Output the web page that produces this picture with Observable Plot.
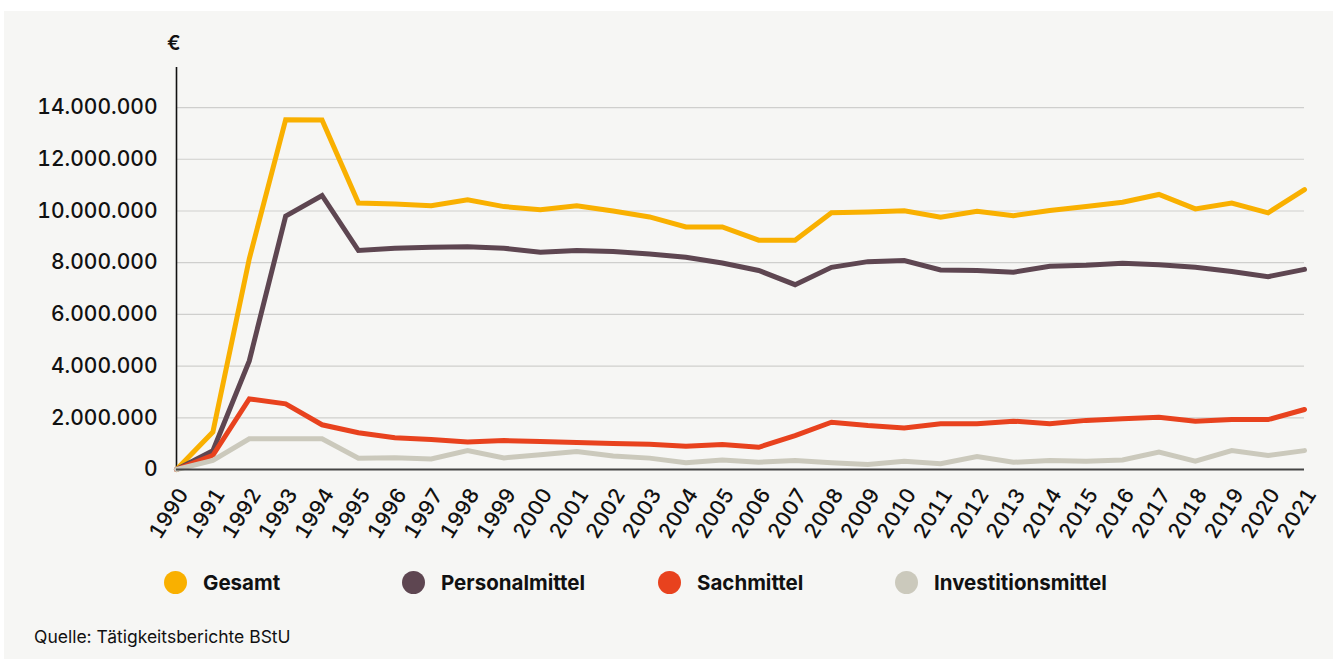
<!DOCTYPE html>
<html>
<head>
<meta charset="utf-8">
<script src="https://cdn.jsdelivr.net/npm/d3@7"></script>
<script src="https://cdn.jsdelivr.net/npm/@observablehq/plot@0.6"></script>
<style>
  html, body { margin: 0; padding: 0; background: #ffffff; }
  body { width: 1333px; height: 659px; position: relative; overflow: hidden; font-family: Inter, "Noto Sans", sans-serif; }
  #panel { position: absolute; left: 4px; top: 11px; width: 1329px; height: 648px; background: #f6f6f4; }
  #chart { position: absolute; left: 0; top: 0; }
  #euro { position: absolute; left: 163px; top: 20px; font-size: 20px; font-weight: 600; color: #111; }
  .leg { position: absolute; top: 559px; display: flex; align-items: center; font-size: 20.5px; font-weight: 700; color: #111; }
  .leg .dot { width: 23px; height: 23px; border-radius: 50%; margin-right: 16px; }
  #caption { position: absolute; left: 30px; top: 615px; font-size: 17.5px; color: #111; }
  svg g[aria-label="y-axis tick label"] text, svg g[aria-label="x-axis tick label"] text { font-weight: 500; }
</style>
</head>
<body>
<div id="panel">
  <div id="chart"></div>
  <div id="euro">€</div>
  <div id="legend"></div>
  <div id="caption">Quelle: Tätigkeitsberichte BStU</div>
</div>
<script>
const years = [1990, 1991, 1992, 1993, 1994, 1995, 1996, 1997, 1998, 1999, 2000, 2001, 2002, 2003, 2004, 2005,
               2006, 2007, 2008, 2009, 2010, 2011, 2012, 2013, 2014, 2015, 2016, 2017, 2018, 2019, 2020, 2021];

const gesamt = [0, 1450000, 8150000, 13530000, 13520000, 10310000, 10270000, 10200000, 10430000, 10170000,
                10050000, 10200000, 10000000, 9770000, 9380000, 9380000, 8870000, 8870000, 9930000, 9960000,
                10010000, 9760000, 9990000, 9820000, 10020000, 10170000, 10340000, 10640000, 10080000, 10310000,
                9930000, 10830000];

const personalmittel = [0, 730000, 4200000, 9800000, 10600000, 8470000, 8560000, 8600000, 8620000, 8560000,
                8400000, 8470000, 8430000, 8340000, 8210000, 7990000, 7700000, 7150000, 7820000, 8040000,
                8080000, 7720000, 7700000, 7630000, 7860000, 7900000, 7980000, 7920000, 7820000, 7660000,
                7460000, 7740000];

const sachmittel = [0, 550000, 2730000, 2540000, 1730000, 1420000, 1230000, 1160000, 1060000, 1120000,
                1080000, 1040000, 1010000, 980000, 900000, 970000, 860000, 1310000, 1830000, 1700000,
                1610000, 1770000, 1770000, 1870000, 1770000, 1900000, 1960000, 2020000, 1870000, 1930000,
                1930000, 2320000];

const investitionsmittel = [0, 350000, 1190000, 1190000, 1190000, 440000, 450000, 410000, 730000, 450000,
                570000, 700000, 520000, 440000, 260000, 370000, 280000, 350000, 260000, 190000,
                320000, 220000, 500000, 280000, 350000, 320000, 370000, 670000, 320000, 730000,
                540000, 730000];

const seriesNames = ["Gesamt", "Personalmittel", "Sachmittel", "Investitionsmittel"];
const seriesColors = ["#f9b000", "#5e4651", "#e8421e", "#cbc9bc"];
const yTicks = [0, 2000000, 4000000, 6000000, 8000000, 10000000, 12000000, 14000000];

const seriesValues = [gesamt, personalmittel, sachmittel, investitionsmittel];
const rows = [];
seriesNames.forEach((name, i) => {
  years.forEach((yr, j) => rows.push({series: name, year: yr, value: seriesValues[i][j]}));
});

const de = d3.formatLocale({decimal: ",", thousands: ".", grouping: [3], currency: ["", " €"]});
const fmt = de.format(",");

const chart = Plot.plot({
  width: 1329,
  height: 550,
  marginLeft: 172,
  marginRight: 29,
  marginTop: 56,
  marginBottom: 92,
  style: {background: "transparent", fontFamily: "Inter, 'Noto Sans', sans-serif", fontSize: "21px", color: "#111"},
  x: {domain: [1990, 2021], label: null},
  y: {domain: [0, 15550000], label: null},
  color: {domain: seriesNames, range: seriesColors},
  marks: [
    Plot.gridY(yTicks, {stroke: "#cfcfcd", strokeOpacity: 1, strokeWidth: 1.2}),
    Plot.axisY(yTicks, {tickSize: 0, tickPadding: 19, tickFormat: fmt, label: null, fontSize: 21, fill: "#111"}),
    Plot.axisX(years, {tickSize: 0, tickPadding: 21, dx: 7, tickRotate: -58, tickFormat: d => String(d), label: null, fontSize: 21, fill: "#111"}),
    Plot.ruleX([1990], {stroke: "#111", strokeWidth: 1.6}),
    Plot.lineY(rows, {x: "year", y: "value", z: "series", stroke: "series", strokeWidth: 5, strokeLinejoin: "miter", strokeMiterlimit: 3}),
    Plot.ruleY([0], {stroke: "#444", strokeWidth: 2})
  ]
});
document.getElementById("chart").appendChild(chart);

const legendLeft = [160, 398, 654, 891];
const legend = document.getElementById("legend");
seriesNames.forEach((name, i) => {
  const item = document.createElement("div");
  item.className = "leg";
  item.style.left = legendLeft[i] + "px";
  const dot = document.createElement("span");
  dot.className = "dot";
  dot.style.background = seriesColors[i];
  const label = document.createElement("span");
  label.textContent = name;
  item.appendChild(dot);
  item.appendChild(label);
  legend.appendChild(item);
});
</script>
</body>
</html>
